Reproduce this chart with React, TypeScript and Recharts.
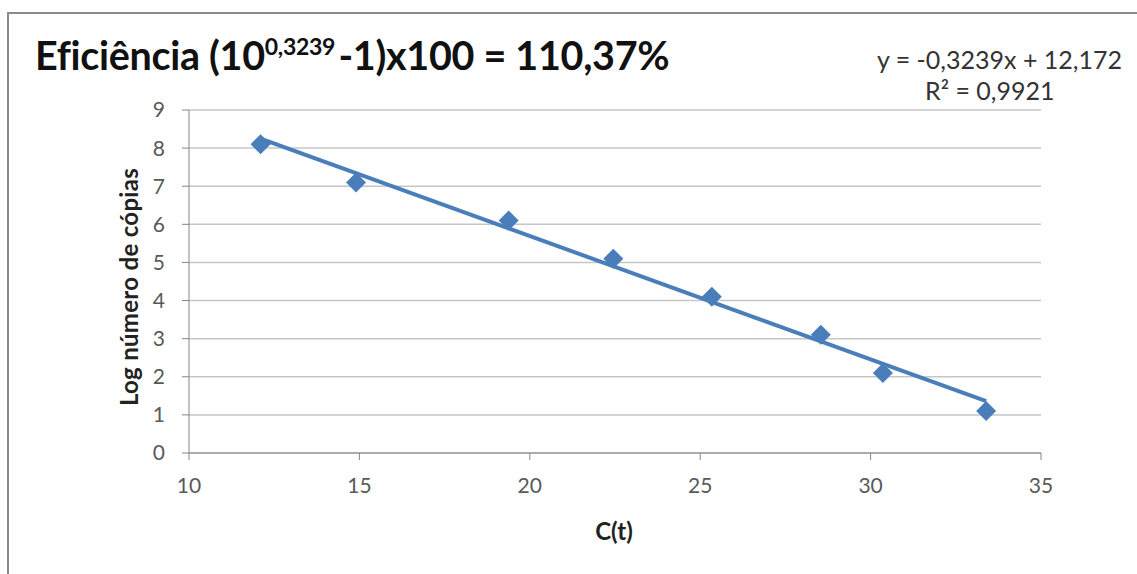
import React from 'react';
import { ScatterChart, Scatter, XAxis, YAxis, CartesianGrid } from 'recharts';

const ctValues = [12.1, 14.9, 19.38, 22.45, 25.34, 28.54, 30.36, 33.39];
const logCopies = [8.1, 7.1, 6.1, 5.1, 4.1, 3.1, 2.1, 1.1];
const trendX = [12.1, 33.39];
const trendY = [8.25, 1.36];
const xTicks = [10, 15, 20, 25, 30, 35];
const yTicks = [0, 1, 2, 3, 4, 5, 6, 7, 8, 9];

const points = ctValues.map((x, i) => ({ x, y: logCopies[i] }));
const trend = trendX.map((x, i) => ({ x, y: trendY[i] }));

const BLUE = '#4a7ebb';
const FONT = 'Lato, "Open Sans", sans-serif';

const Diamond = (props: any) => {
  const { cx, cy } = props;
  if (cx == null || cy == null) return null;
  const r = 10;
  return (
    <polygon
      points={`${cx},${cy - r} ${cx + r},${cy} ${cx},${cy + r} ${cx - r},${cy}`}
      fill={BLUE}
    />
  );
};

export default function App() {
  return (
    <div style={{ position: 'absolute', left: 0, top: 0, width: 1137, height: 574, overflow: 'hidden', background: '#fff', fontFamily: FONT }}>
      <div style={{ position: 'absolute', left: 7, top: 12, width: 1200, height: 700, border: '2px solid #8a8a8a' }} />
      <div style={{ position: 'absolute', left: 35, top: 31, fontSize: 39.5, lineHeight: '47px', fontWeight: 700, color: '#111', whiteSpace: 'nowrap', letterSpacing: -0.3 }}>
        Eficiência (10<sup style={{ fontSize: 23, lineHeight: 0, verticalAlign: 'baseline', position: 'relative', top: -15, marginRight: -6 }}>0,3239</sup> -1)x100 = 110,37%
      </div>
      <div style={{ position: 'absolute', left: 860, top: 44, width: 290, fontSize: 25, color: '#333', lineHeight: '31px', whiteSpace: 'nowrap' }}>
        <div style={{ paddingLeft: 17 }}>y = -0,3239x + 12,172</div>
        <div style={{ paddingLeft: 65 }}>R² = 0,9921</div>
      </div>
      <div style={{ position: 'absolute', left: 0, top: 0 }}>
        <ScatterChart width={1137} height={574} margin={{ top: 110, right: 96, bottom: 91, left: 109 }}>
          <CartesianGrid horizontal={true} vertical={false} stroke="#c6c6c6" strokeWidth={1.5} />
          <XAxis
            type="number"
            dataKey="x"
            domain={[10, 35]}
            ticks={xTicks}
            interval={0}
            height={30}
            stroke="#868686"
            tickSize={7}
            tickMargin={18}
            tick={{ fill: '#595959', fontSize: 21, fontFamily: FONT }}
          />
          <YAxis
            type="number"
            dataKey="y"
            domain={[0, 9]}
            ticks={yTicks}
            interval={0}
            width={80}
            stroke="#868686"
            tickSize={7}
            tickMargin={17}
            tick={{ fill: '#595959', fontSize: 21, fontFamily: FONT }}
          />
          <Scatter
            data={trend}
            isAnimationActive={false}
            line={{ stroke: BLUE, strokeWidth: 4 }}
            shape={() => null}
            legendType="none"
          />
          <Scatter data={points} isAnimationActive={false} shape={Diamond} fill={BLUE} />
        </ScatterChart>
      </div>
      <div style={{ position: 'absolute', left: 129, top: 287, transform: 'translate(-50%, -50%) rotate(-90deg)', fontSize: 24, fontWeight: 700, color: '#222', whiteSpace: 'nowrap', lineHeight: '28px', letterSpacing: 0.3 }}>
        Log número de cópias
      </div>
      <div style={{ position: 'absolute', left: 614, top: 531, transform: 'translate(-50%, -50%)', fontSize: 24, fontWeight: 700, color: '#222', whiteSpace: 'nowrap', lineHeight: '28px' }}>
        C(t)
      </div>
    </div>
  );
}
